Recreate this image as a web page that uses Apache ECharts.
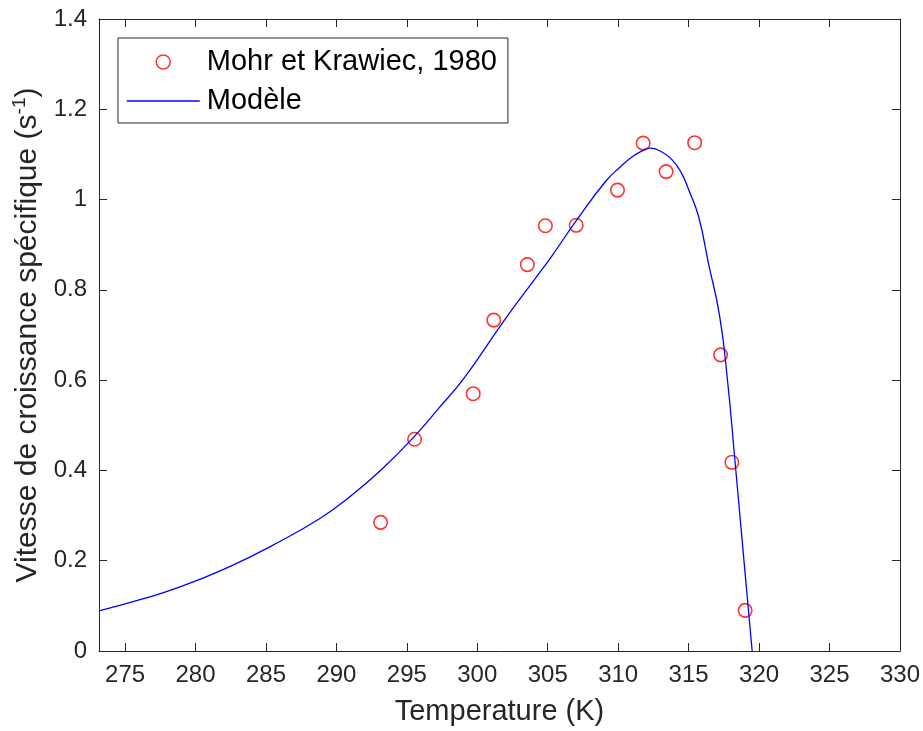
<!DOCTYPE html>
<html>
<head>
<meta charset="utf-8">
<script src="https://cdn.jsdelivr.net/npm/echarts@6/dist/echarts.min.js"></script>
<style>
  html, body { margin:0; padding:0; background:#fff; }
  #chart { width:923px; height:731px; }
</style>
</head>
<body>
<div id="chart"></div>
<script>
// mesures (Mohr et Krawiec, 1980)
const dataT = [293.14, 295.55, 299.71, 301.17, 303.55, 304.83, 307.02, 309.95, 311.77, 313.4, 315.43, 317.27, 318.07, 319.01];
const dataY = [0.285, 0.469, 0.570, 0.733, 0.856, 0.942, 0.943, 1.021, 1.125, 1.062, 1.126, 0.656, 0.418, 0.090];

// courbe du modèle
const modelT = [273.15, 276.0, 279.0, 282.5, 285.4, 288.8, 291.0, 293.3, 295.55, 297.3, 299.1, 301.9, 304.2, 305.2, 307.0, 309.1, 310.2, 311.0, 311.7, 312.3, 313.0, 313.8, 314.5, 315.0, 315.7, 316.4, 317.2, 317.75, 318.3, 318.8, 319.24, 319.51];
const modelY = [0.089, 0.113, 0.143, 0.188, 0.233, 0.293, 0.343, 0.405, 0.476, 0.539, 0.606, 0.732, 0.829, 0.871, 0.952, 1.040, 1.074, 1.095, 1.108, 1.114, 1.107, 1.089, 1.058, 1.022, 0.963, 0.860, 0.742, 0.602, 0.417, 0.244, 0.092, 0];

const xTicks = [275, 280, 285, 290, 295, 300, 305, 310, 315, 320, 325, 330];
const xMin = 273.15, xMax = 330;
const yMin = 0, yMax = 1.4;

const font = 'Liberation Sans, Arial, Helvetica, sans-serif';
const axisColor = '#262626';

let myChart = echarts.init(document.getElementById('chart'));

const boxAxisLine = { show:true, onZero:false, lineStyle:{ color:axisColor, width:1 } };

let option = {
    animation:false,
    grid:{ left:99, right:21, top:19, bottom:79, containLabel:false },
    legend:{
        orient:'vertical',
        left:118,
        top:38,
        padding:[9, 11, 7, 8],
        itemWidth:73,
        itemHeight:14,
        itemGap:9,
        backgroundColor:'#fff',
        borderColor:axisColor,
        borderWidth:1,
        borderRadius:0,
        textStyle:{ fontSize:29, lineHeight:30, color:'#000', fontFamily:font, padding:[0,0,0,2] },
        data:[
            { name:'Mohr et Krawiec, 1980', icon:'circle', itemStyle:{ color:'transparent', borderColor:'#ff0000', borderWidth:1.5 } },
            { name:'Modèle', itemStyle:{ color:'transparent', borderWidth:0, opacity:0 }, lineStyle:{ color:'#0000ff', width:1.5, opacity:1 } }
        ]
    },
    xAxis:[
        {
            type:'value',
            min:xMin,
            max:xMax,
            position:'bottom',
            name:'Temperature (K)',
            nameLocation:'middle',
            nameGap:46,
            nameTextStyle:{ fontSize:29, color:axisColor, fontFamily:font },
            axisLine:boxAxisLine,
            axisTick:{ show:true, inside:true, length:8, customValues:xTicks, lineStyle:{ color:axisColor } },
            axisLabel:{ show:true, customValues:xTicks, margin:12, fontSize:24, color:axisColor, fontFamily:font },
            splitLine:{ show:false }
        },
        {
            type:'value',
            min:xMin,
            max:xMax,
            position:'top',
            axisLine:boxAxisLine,
            axisTick:{ show:true, inside:true, length:8, customValues:xTicks, lineStyle:{ color:axisColor } },
            axisLabel:{ show:false },
            splitLine:{ show:false }
        }
    ],
    yAxis:[
        {
            type:'value',
            min:yMin,
            max:yMax,
            interval:0.2,
            position:'left',
            name:'{a|Vitesse de croissance spécifique (s}{b|-1}{a|)}',
            nameLocation:'middle',
            nameGap:53,
            nameRotate:90,
            nameTextStyle:{
                color:axisColor,
                fontFamily:font,
                rich:{
                    a:{ fontSize:30, color:axisColor, fontFamily:font },
                    b:{ fontSize:19, color:axisColor, fontFamily:font, padding:[0,0,15,0] }
                }
            },
            axisLine:boxAxisLine,
            axisTick:{ show:true, inside:true, length:8, lineStyle:{ color:axisColor } },
            axisLabel:{ show:true, margin:12, fontSize:24, color:axisColor, fontFamily:font },
            splitLine:{ show:false }
        },
        {
            type:'value',
            min:yMin,
            max:yMax,
            interval:0.2,
            position:'right',
            axisLine:boxAxisLine,
            axisTick:{ show:true, inside:true, length:8, lineStyle:{ color:axisColor } },
            axisLabel:{ show:false },
            splitLine:{ show:false }
        }
    ],
    series:[
        {
            type:'scatter',
            name:'Mohr et Krawiec, 1980',
            xAxisIndex:0,
            yAxisIndex:0,
            symbol:'circle',
            symbolSize:13.5,
            itemStyle:{ color:'transparent', borderColor:'#ff0000', borderWidth:1.6 },
            data:dataT.map((t, i)=>[t, dataY[i]]),
            z:3
        },
        {
            type:'line',
            name:'Modèle',
            xAxisIndex:0,
            yAxisIndex:0,
            symbol:'none',
            smooth:0.5,
            lineStyle:{ color:'#0000ff', width:1.3 },
            itemStyle:{ color:'#0000ff' },
            data:modelT.map((t, i)=>[t, modelY[i]]),
            z:4
        }
    ]
};
myChart.setOption(option);
</script>
</body>
</html>
